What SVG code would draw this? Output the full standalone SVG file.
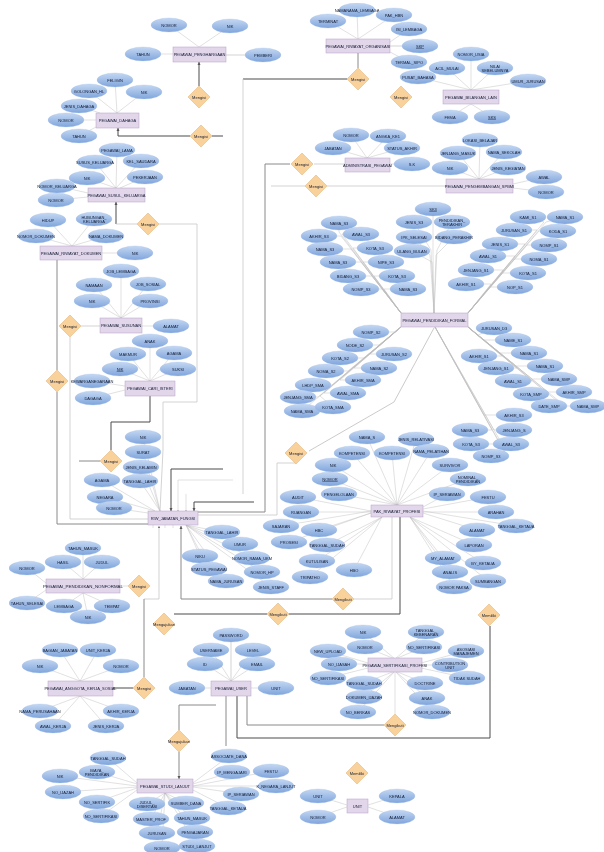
<svg xmlns="http://www.w3.org/2000/svg" width="604" height="852" viewBox="0 0 604 852">
<style>
text{font-family:"Liberation Sans",Arial,sans-serif;font-size:4px;fill:#141c33;text-anchor:middle;dominant-baseline:central}
.a{rx:18px;ry:7px;fill:url(#ov);stroke:#a3bfe6;stroke-width:.3}
.e{fill:#e2d6ea;stroke:#b39fc2;stroke-width:.5}
.d{fill:#f9d19b;stroke:#e0b070;stroke-width:.5}
.c{fill:none;stroke:#bcbcbc;stroke-width:.45}
.l{fill:none;stroke:#c8c8c8;stroke-width:.8}
.m{fill:none;stroke:#8a8a8a;stroke-width:1}
.k{fill:none;stroke:#4a4a4a;stroke-width:1}
.u{text-decoration:underline}
</style>
<defs>
<linearGradient id="ov" x1="0" y1="0" x2="0" y2="1"><stop offset="0" stop-color="#c4d7f2"/><stop offset="1" stop-color="#7fa5dc"/></linearGradient>
<marker id="ah" markerWidth="4" markerHeight="4" refX="3" refY="2" orient="auto"><path d="M0 .5L3 2L0 3.5z" fill="#555"/></marker>
<filter id="soft" x="0" y="0" width="100%" height="100%"><feGaussianBlur stdDeviation=".28"/></filter>
</defs>
<rect width="604" height="852" fill="#fff"/>
<g filter="url(#soft)">
<g id="connectors">
<path class="c" d="M169 25L199 47"/><path class="c" d="M230 26L199 47"/><path class="c" d="M143 54H173"/><path class="l" d="M226 55H263"/>
<path class="c" d="M115 80L117 113"/><path class="c" d="M89 91L117 113"/><path class="c" d="M144 92L117 113"/><path class="c" d="M79 106L100 113"/><path class="c" d="M66 120H96"/><path class="c" d="M79 136L96 127"/>
<path class="c" d="M117 150L116 188"/><path class="c" d="M95 162L116 188"/><path class="c" d="M141 161L116 188"/><path class="c" d="M87 178L116 188"/><path class="c" d="M145 177L120 188"/><path class="c" d="M57 186L88 193"/><path class="c" d="M56 200L88 197"/>
<path class="c" d="M48 220L72 246"/><path class="c" d="M94 219L72 246"/><path class="c" d="M36 236L72 246"/><path class="c" d="M106 236L72 246"/><path class="c" d="M135 253H102"/>
<path class="c" d="M121 271V318"/><path class="c" d="M94 285L121 318"/><path class="c" d="M148 284L121 318"/><path class="c" d="M92 301L121 318"/><path class="c" d="M150 301L121 318"/><path class="c" d="M171 326H142"/>
<path class="c" d="M150 341V381"/><path class="c" d="M128 354L150 381"/><path class="c" d="M174 353L150 381"/><path class="c" d="M120 369L150 381"/><path class="c" d="M178 369L150 381"/><path class="c" d="M92 381L125 386"/><path class="c" d="M93 398L125 390"/>
<path class="c" d="M143 437L160 511"/><path class="c" d="M143 452L160 511"/><path class="c" d="M141 467L160 511"/><path class="c" d="M140 481L160 511"/><path class="c" d="M102 480L155 511"/><path class="c" d="M105 497L155 511"/><path class="c" d="M114 508L148 513"/>
<path class="c" d="M222 532L186 525"/><path class="c" d="M240 544L186 525"/><path class="c" d="M200 556L186 525"/><path class="c" d="M252 558L186 525"/><path class="c" d="M209 569L186 525"/><path class="c" d="M262 572L186 525"/><path class="c" d="M226 581L186 525"/><path class="c" d="M271 587L186 525"/>
<path class="c" d="M328 21L358 39"/><path class="c" d="M357 10L358 39"/><path class="c" d="M394 15L358 39"/><path class="c" d="M409 29L390 42"/><path class="l" d="M420 46H390"/><path class="c" d="M409 62L390 52"/>
<path class="c" d="M471 54V90"/><path class="c" d="M447 68L471 90"/><path class="c" d="M495 68L471 90"/><path class="c" d="M418 77L471 90"/><path class="c" d="M528 81L471 90"/><path class="c" d="M450 117L471 104"/><path class="c" d="M492 117L471 104"/>
<path class="c" d="M351 135L367 158"/><path class="c" d="M388 136L367 158"/><path class="c" d="M333 148L367 158"/><path class="c" d="M402 148L367 158"/><path class="c" d="M412 164H390"/>
<path class="c" d="M480 140L479 179"/><path class="c" d="M458 153L479 179"/><path class="c" d="M504 152L479 179"/><path class="c" d="M450 168L479 179"/><path class="c" d="M508 168L479 179"/><path class="c" d="M544 177L513 184"/><path class="c" d="M546 192L513 188"/>
<path class="c" d="M433 209L433 255L434 313"/><path class="c" d="M414 222L431 250L434 313"/><path class="c" d="M452 222L437 250L434 313"/><path class="c" d="M414 237L430 255L434 313"/><path class="c" d="M454 237L436 255L434 313"/><path class="c" d="M412 251L432 262L434 313"/>
<path class="c" d="M339 223L339 232L401 313"/><path class="c" d="M319 236L341 236L401 313"/><path class="c" d="M361 234L342 234L401 313"/><path class="c" d="M325 249L351 249L401 313"/><path class="c" d="M375 248L353 248L401 313"/><path class="c" d="M338 262L361 262L401 313"/><path class="c" d="M386 262L363 262L401 313"/><path class="c" d="M348 276L372 276L401 313"/><path class="c" d="M397 276L374 276L401 313"/><path class="c" d="M361 289L382 289L401 313"/><path class="c" d="M408 289L384 289L401 313"/>
<path class="c" d="M528 217L544 222L468 313"/><path class="c" d="M565 217L546 222L468 313"/><path class="c" d="M514 230L537 230L468 313"/><path class="c" d="M558 231L539 231L468 313"/><path class="c" d="M500 244L525 244L468 313"/><path class="c" d="M549 245L527 245L468 313"/><path class="c" d="M488 256L515 256L468 313"/><path class="c" d="M539 259L514 259L468 313"/><path class="c" d="M476 270L503 270L468 313"/><path class="c" d="M528 273L502 273L468 313"/><path class="c" d="M466 284L491 284L468 313"/><path class="c" d="M515 287L490 287L468 313"/>
<path class="c" d="M371 332L394 332L401 327"/><path class="c" d="M355 345L379 345L401 327"/><path class="c" d="M340 358L364 358L401 327"/><path class="c" d="M326 371L348 371L401 327"/><path class="c" d="M313 385L332 385L401 327"/><path class="c" d="M298 397L318 397L401 327"/><path class="c" d="M302 411L315 400L401 327"/><path class="c" d="M394 354L370 354L401 327"/><path class="c" d="M379 368L354 368L401 327"/><path class="c" d="M363 380L340 380L401 327"/><path class="c" d="M348 393L324 393L401 327"/><path class="c" d="M333 407L320 396L401 327"/>
<path class="c" d="M494 328L478 335L468 327"/><path class="c" d="M513 340L483 340L468 327"/><path class="c" d="M479 356L502 356L468 327"/><path class="c" d="M529 353L500 353L468 327"/><path class="c" d="M545 366L516 366L468 327"/><path class="c" d="M496 368L517 368L468 327"/><path class="c" d="M513 381L532 381L468 327"/><path class="c" d="M559 379L532 379L468 327"/><path class="c" d="M531 394L548 394L468 327"/><path class="c" d="M574 392L548 392L468 327"/><path class="c" d="M549 406L563 406L468 327"/><path class="c" d="M588 406L565 406L468 327"/>
<path class="c" d="M514 415L484 415L435 327"/><path class="c" d="M470 430L492 430L435 327"/><path class="c" d="M514 430L494 430L435 327"/><path class="c" d="M471 444L500 444L435 327"/><path class="c" d="M511 444L502 444L435 327"/><path class="c" d="M491 456L507 456L435 327"/>
<path class="c" d="M367 437L397 505"/><path class="c" d="M416 439L397 505"/><path class="c" d="M352 453L397 505"/><path class="c" d="M392 453L397 505"/><path class="c" d="M431 451L397 505"/><path class="c" d="M333 465L397 505"/><path class="c" d="M450 465L397 505"/><path class="c" d="M330 479L397 505"/><path class="c" d="M468 479L397 505"/><path class="c" d="M339 494L397 505"/><path class="c" d="M447 494L423 507"/>
<path class="c" d="M298 497L371 511"/><path class="c" d="M301 512H371"/><path class="c" d="M281 526L371 511"/><path class="c" d="M319 530L371 513"/><path class="c" d="M289 542L371 513"/><path class="c" d="M327 545L382 517"/><path class="c" d="M317 561L382 517"/><path class="c" d="M310 577L382 517"/><path class="c" d="M354 570L382 517"/>
<path class="c" d="M488 497L423 509"/><path class="c" d="M496 512H423"/><path class="c" d="M516 526L423 511"/><path class="c" d="M477 530L423 513"/><path class="c" d="M474 545L410 517"/><path class="c" d="M483 563L410 517"/><path class="c" d="M443 558L410 517"/><path class="c" d="M450 572L410 517"/><path class="c" d="M488 581L410 517"/><path class="c" d="M454 587L410 517"/>
<path class="c" d="M83 548V579"/><path class="c" d="M63 562L83 579"/><path class="c" d="M102 562L83 579"/><path class="c" d="M27 568L46 583"/><path class="c" d="M27 603L46 590"/><path class="c" d="M64 606L83 593"/><path class="c" d="M112 606L83 593"/><path class="c" d="M88 617L83 593"/>
<path class="c" d="M60 650L80 681"/><path class="c" d="M98 650L80 681"/><path class="c" d="M40 666L80 681"/><path class="c" d="M121 666L80 681"/><path class="c" d="M40 711L80 696"/><path class="c" d="M121 711L80 696"/><path class="c" d="M53 726L80 696"/><path class="c" d="M106 726L80 696"/>
<path class="l" d="M231 635V681"/><path class="c" d="M211 650L231 681"/><path class="c" d="M253 650L231 681"/><path class="c" d="M205 664L231 681"/><path class="c" d="M257 664L231 681"/><path class="c" d="M187 688H211"/><path class="c" d="M276 688H251"/>
<path class="c" d="M108 758L137 783"/><path class="c" d="M97 772L137 784"/><path class="c" d="M60 776L137 786"/><path class="c" d="M63 792L137 787"/><path class="c" d="M97 802L137 788"/><path class="c" d="M101 816L137 790"/><path class="c" d="M147 804L165 793"/><path class="c" d="M186 803L165 793"/><path class="c" d="M151 819L165 793"/><path class="c" d="M192 818L165 793"/><path class="c" d="M157 833L165 793"/><path class="c" d="M195 832L165 793"/><path class="c" d="M162 848L165 793"/><path class="c" d="M197 846L165 793"/>
<path class="c" d="M229 756L193 783"/><path class="c" d="M232 772L193 784"/><path class="c" d="M271 771L193 786"/><path class="c" d="M276 786L193 786"/><path class="c" d="M241 794L193 787"/><path class="c" d="M228 808L193 790"/>
<path class="c" d="M363 632L395 659"/><path class="c" d="M365 647L395 659"/><path class="c" d="M426 632L395 659"/><path class="c" d="M424 647L395 659"/><path class="c" d="M328 651L368 663"/><path class="c" d="M339 664H368"/><path class="c" d="M328 678L368 668"/><path class="c" d="M466 651L421 663"/><path class="c" d="M450 665H421"/><path class="c" d="M467 678L421 668"/><path class="c" d="M364 683L395 671"/><path class="c" d="M364 697L395 671"/><path class="c" d="M358 712L395 671"/><path class="c" d="M425 683L395 671"/><path class="c" d="M427 698L395 671"/><path class="c" d="M432 712L395 671"/>
<path class="c" d="M318 796L347 805"/><path class="c" d="M318 817L347 807"/><path class="c" d="M397 796L368 805"/><path class="c" d="M397 817L368 807"/>
<path class="k" d="M199 86V62" marker-end="url(#ah)"/>
<path class="k" d="M190 136H118V128" marker-end="url(#ah)"/><path class="k" d="M212 136H223"/>
<path class="k" d="M116 224V202" marker-end="url(#ah)"/><path class="l" d="M116 224H137M159 224H197V402H163V450L160 511"/>
<path class="m" d="M57 260V370M57 392V524H148"/>
<path class="l" d="M81 326H100M70 337V519H148"/>
<path class="k" d="M150 396V422H111V450"/><path class="m" d="M100 461H79"/>
<path class="k" d="M347 79H243"/><path class="l" d="M243 79V494"/>
<path class="m" d="M290 164H265V512H198"/><path class="l" d="M314 164H345"/>
<path class="l" d="M271 186H305M327 186H446"/>
<path class="k" d="M223 469H171V511" marker-end="url(#ah)"/><path class="c" d="M233 480H178V511" marker-end="url(#ah)"/><path class="c" d="M186 494V511" marker-end="url(#ah)"/><path class="k" d="M254 502H194V511" marker-end="url(#ah)"/>
<path class="l" d="M198 515H277V463H296"/>
<path class="c" style="stroke:#888" d="M309 451L394 402L434 328"/>
<path class="l" d="M159 599H144"/><path class="l" d="M159 599V526" marker-end="url(#ah)"/><path class="m" d="M144 599V677"/>
<path class="m" d="M332 599H181V526" marker-end="url(#ah)"/><path class="l" d="M354 599H392V517"/>
<path class="c" d="M153 525V528M165 525V528M173 525V528"/>
<path class="k" d="M174 614H267M289 614H400V517"/>
<path class="k" d="M237 696V738H490V626"/><path class="m" d="M247 696V725H384"/><path class="c" d="M395 671V714"/>
<path class="m" d="M226 696V746"/>
<path class="m" d="M358 53V68"/>
<path class="m" d="M179 752V779" marker-end="url(#ah)"/><path class="m" d="M179 730V705H216"/>
<path class="k" d="M133 688H113"/><path class="c" d="M128 586H120"/>
</g>
<g id="e1"><rect class="e" x="173" y="47" width="53" height="15"/><text x="199.500" y="54.500">PEGAWAI_PENGHARGAAN</text></g>
<g id="e2"><rect class="e" x="96" y="113" width="43" height="15"/><text x="117.500" y="120.500">PEGAWAI_DAHAGA</text></g>
<g id="e3"><rect class="e" x="88" y="188" width="57" height="14"/><text x="116.500" y="195">PEGAWAI_SUSUL_KELUARGA</text></g>
<g id="e4"><rect class="e" x="40" y="246" width="62" height="14"/><text x="71" y="253">PEGAWAI_RIWAYAT_DOKUMEN</text></g>
<g id="e5"><rect class="e" x="100" y="318" width="42" height="15"/><text x="121" y="325.500">PEGAWAI_SUSUNAN</text></g>
<g id="e6"><rect class="e" x="125" y="381" width="50" height="15"/><text x="150" y="388.500">PEGAWAI_CARI_ISTERI</text></g>
<g id="e7"><rect class="e" x="148" y="511" width="50" height="14"/><text x="173" y="518">RIW_JABATAN_FUNGSI</text></g>
<g id="e9"><rect class="e" x="326" y="39" width="64" height="14"/><text x="358" y="46">PEGAWAI_RIWAYAT_ORGANISASI</text></g>
<g id="e10"><rect class="e" x="443" y="90" width="56" height="14"/><text x="471" y="97">PEGAWAI_BILANGAN_LAIN</text></g>
<g id="e11"><rect class="e" x="345" y="158" width="45" height="14"/><text x="367.500" y="165">ADMINISTRASI_PEGAWAI</text></g>
<g id="e12"><rect class="e" x="446" y="179" width="67" height="14"/><text x="479.500" y="186">PEGAWAI_PENGEMBANGAN_SPBMI</text></g>
<g id="e13"><rect class="e" x="401" y="313" width="67" height="14"/><text x="434.500" y="320">PEGAWAI_PENDIDIKAN_FORMAL</text></g>
<g id="e14"><rect class="e" x="371" y="505" width="52" height="12"/><text x="397" y="511">PAK_RIWAYAT_PROFESI</text></g>
<g id="e15"><rect class="e" x="46" y="579" width="74" height="14"/><text x="83" y="586" style="font-size:4.400px">PEGAWAI_PENDIDIKAN_NONFORMAL</text></g>
<g id="e16"><rect class="e" x="48" y="681" width="65" height="15"/><text x="80.500" y="688.500">PEGAWAI_ANGGOTA_KERJA_SOSIAL</text></g>
<g id="e17"><rect class="e" x="211" y="681" width="40" height="15"/><text x="231" y="688.500">PEGAWAI_USER</text></g>
<g id="e18"><rect class="e" x="137" y="779" width="56" height="14"/><text x="165" y="786">PEGAWAI_STUDI_LANJUT</text></g>
<g id="e19"><rect class="e" x="368" y="658" width="54" height="14"/><text x="395" y="665">PEGAWAI_SERTIFIKASI_PROFESI</text></g>
<g id="e20"><rect class="e" x="347" y="799" width="21" height="14"/><text x="357.500" y="806">UNIT</text></g>
<g id="d1"><path class="d" d="M199 86L210 97L199 108L188 97z"/><text x="199" y="97">Mengisi</text></g>
<g id="d2"><path class="d" d="M201 125L212 136L201 147L190 136z"/><text x="201" y="136">Mengisi</text></g>
<g id="d3"><path class="d" d="M148 213L159 224L148 235L137 224z"/><text x="148" y="224">Mengisi</text></g>
<g id="d4"><path class="d" d="M70 315L81 326L70 337L59 326z"/><text x="70" y="326">Mengisi</text></g>
<g id="d5"><path class="d" d="M57 370L68 381L57 392L46 381z"/><text x="57" y="381">Mengisi</text></g>
<g id="d6"><path class="d" d="M111 450L122 461L111 472L100 461z"/><text x="111" y="461">Mengisi</text></g>
<g id="d7"><path class="d" d="M358 68L369 79L358 90L347 79z"/><text x="358" y="79">Mengisi</text></g>
<g id="d8"><path class="d" d="M401 86L412 97L401 108L390 97z"/><text x="401" y="97">Mengisi</text></g>
<g id="d9"><path class="d" d="M302 153L313 164L302 175L291 164z"/><text x="302" y="164">Mengisi</text></g>
<g id="d10"><path class="d" d="M316 175L327 186L316 197L305 186z"/><text x="316" y="186">Mengisi</text></g>
<g id="d11"><path class="d" d="M296 442L307 453L296 464L285 453z"/><text x="296" y="453">Mengisi</text></g>
<g id="d12"><path class="d" d="M139 575L150 586L139 597L128 586z"/><text x="139" y="586">Mengisi</text></g>
<g id="d13"><path class="d" d="M343 588L354 599L343 610L332 599z"/><text x="343" y="599">Mengikuti</text></g>
<g id="d14"><path class="d" d="M278 603L289 614L278 625L267 614z"/><text x="278" y="614">Mengikuti</text></g>
<g id="d15"><path class="d" d="M164 613L175 624L164 635L153 624z"/><text x="164" y="624">Mengajukan</text></g>
<g id="d16"><path class="d" d="M489 604L500 615L489 626L478 615z"/><text x="489" y="615">Memiliki</text></g>
<g id="d17"><path class="d" d="M144 677L155 688L144 699L133 688z"/><text x="144" y="688">Mengisi</text></g>
<g id="d18"><path class="d" d="M179 730L190 741L179 752L168 741z"/><text x="179" y="741">Mengajukan</text></g>
<g id="d19"><path class="d" d="M395 714L406 725L395 736L384 725z"/><text x="395" y="725">Mengikuti</text></g>
<g id="d20"><path class="d" d="M357 762L368 773L357 784L346 773z"/><text x="357" y="773">Memiliki</text></g>
<g id="a1" transform="translate(169,25)"><ellipse class="a"/><text>NOMOR</text></g>
<g id="a2" transform="translate(230,26)"><ellipse class="a"/><text>NIK</text></g>
<g id="a3" transform="translate(143,54)"><ellipse class="a"/><text>TAHUN</text></g>
<g id="a4" transform="translate(263,55)"><ellipse class="a"/><text>PEMBERI</text></g>
<g id="a5" transform="translate(115,80)"><ellipse class="a"/><text>FELIGIN</text></g>
<g id="a6" transform="translate(89,91)"><ellipse class="a"/><text>GOLONGAN_HL</text></g>
<g id="a7" transform="translate(144,92)"><ellipse class="a"/><text>NIK</text></g>
<g id="a8" transform="translate(79,106)"><ellipse class="a"/><text>JENIS_DAHAGA</text></g>
<g id="a9" transform="translate(66,120)"><ellipse class="a"/><text>NOMOR</text></g>
<g id="a10" transform="translate(79,136)"><ellipse class="a"/><text>TAHUN</text></g>
<g id="a11" transform="translate(117,150)"><ellipse class="a"/><text>PEGAWAI_LAMA</text></g>
<g id="a12" transform="translate(95,162)"><ellipse class="a"/><text>SUSUS_KELUARGA</text></g>
<g id="a13" transform="translate(141,161)"><ellipse class="a"/><text>KEL_SAUDARA</text></g>
<g id="a14" transform="translate(87,178)"><ellipse class="a"/><text>NIK</text></g>
<g id="a15" transform="translate(145,177)"><ellipse class="a"/><text>PEKERJAAN</text></g>
<g id="a16" transform="translate(57,186)"><ellipse class="a"/><text>NOMOR_KELUARGA</text></g>
<g id="a17" transform="translate(56,200)"><ellipse class="a"/><text>NOMOR</text></g>
<g id="a18" transform="translate(48,220)"><ellipse class="a"/><text>HIDUP</text></g>
<g id="a19" transform="translate(94,219)"><ellipse class="a"/><text><tspan x="0" y="-2.200">HUBUNGAN_</tspan><tspan x="0" y="2.400">KELUARGA</tspan></text></g>
<g id="a20" transform="translate(36,236)"><ellipse class="a"/><text>NOMOR_DOKUMEN</text></g>
<g id="a21" transform="translate(106,236)"><ellipse class="a"/><text>NAMA_DOKUMEN</text></g>
<g id="a22" transform="translate(135,253)"><ellipse class="a"/><text>NIK</text></g>
<g id="a23" transform="translate(121,271)"><ellipse class="a"/><text>JOB_LEMBAGA</text></g>
<g id="a24" transform="translate(94,285)"><ellipse class="a"/><text>NAMAAN</text></g>
<g id="a25" transform="translate(148,284)"><ellipse class="a"/><text>JOB_SOSIAL</text></g>
<g id="a26" transform="translate(92,301)"><ellipse class="a"/><text>NIK</text></g>
<g id="a27" transform="translate(150,301)"><ellipse class="a"/><text>PROVINSI</text></g>
<g id="a28" transform="translate(171,326)"><ellipse class="a"/><text>ALAMAT</text></g>
<g id="a29" transform="translate(150,341)"><ellipse class="a"/><text>ANAK</text></g>
<g id="a30" transform="translate(128,354)"><ellipse class="a"/><text>MAKMUR</text></g>
<g id="a31" transform="translate(174,353)"><ellipse class="a"/><text>AGAMA</text></g>
<g id="a32" transform="translate(120,369)"><ellipse class="a"/><text class="u">NIK</text></g>
<g id="a33" transform="translate(178,369)"><ellipse class="a"/><text>SUKSI</text></g>
<g id="a34" transform="translate(92,381)"><ellipse class="a"/><text>KEWARGANEGARAAN</text></g>
<g id="a35" transform="translate(93,398)"><ellipse class="a"/><text>DAGAGA</text></g>
<g id="a36" transform="translate(143,437)"><ellipse class="a"/><text>NIK</text></g>
<g id="a37" transform="translate(143,452)"><ellipse class="a"/><text>SURAT</text></g>
<g id="a38" transform="translate(141,467)"><ellipse class="a"/><text>JENIS_KELAMIN</text></g>
<g id="a39" transform="translate(140,481)"><ellipse class="a"/><text>TANGGAL_LAHIR</text></g>
<g id="a40" transform="translate(102,480)"><ellipse class="a"/><text>AGAMA</text></g>
<g id="a41" transform="translate(105,497)"><ellipse class="a"/><text>NEGARA</text></g>
<g id="a42" transform="translate(114,508)"><ellipse class="a"/><text>NOMOR</text></g>
<g id="a43" transform="translate(222,532)"><ellipse class="a"/><text>TANGGAL_LAHIR</text></g>
<g id="a44" transform="translate(240,544)"><ellipse class="a"/><text>UMUR</text></g>
<g id="a45" transform="translate(252,558)"><ellipse class="a"/><text>NOMOR_RAMA_UKM</text></g>
<g id="a46" transform="translate(200,556)"><ellipse class="a"/><text>NIKU</text></g>
<g id="a47" transform="translate(209,569)"><ellipse class="a"/><text>STATUS_PEGAWAI</text></g>
<g id="a48" transform="translate(262,572)"><ellipse class="a"/><text>NOMOR_HP</text></g>
<g id="a49" transform="translate(226,581)"><ellipse class="a"/><text>NAMA_JURUSAN</text></g>
<g id="a50" transform="translate(271,587)"><ellipse class="a"/><text>JENIS_STAFF</text></g>
<g id="a51" transform="translate(328,21)"><ellipse class="a"/><text>TERMINAT</text></g>
<g id="a52" transform="translate(357,10)"><ellipse class="a"/><text>NAMANAMA_LEMBAGA</text></g>
<g id="a53" transform="translate(394,15)"><ellipse class="a"/><text>PAK_HBN</text></g>
<g id="a54" transform="translate(409,29)"><ellipse class="a"/><text>ISI_LEMBAGA</text></g>
<g id="a55" transform="translate(420,46)"><ellipse class="a"/><text class="u">SKP</text></g>
<g id="a56" transform="translate(409,62)"><ellipse class="a"/><text>TERMAL_SIPO</text></g>
<g id="a57" transform="translate(471,54)"><ellipse class="a"/><text>NOMOR_USIA</text></g>
<g id="a58" transform="translate(447,68)"><ellipse class="a"/><text>ACIL_MULAI</text></g>
<g id="a59" transform="translate(495,68)"><ellipse class="a"/><text><tspan x="0" y="-2.200">NILAI</tspan><tspan x="0" y="2.400">SEBELUMNYA</tspan></text></g>
<g id="a60" transform="translate(418,77)"><ellipse class="a"/><text>PUSAT_BAHASA</text></g>
<g id="a61" transform="translate(528,81)"><ellipse class="a"/><text>UMUR_JURUSAN</text></g>
<g id="a62" transform="translate(450,117)"><ellipse class="a"/><text>FEMA</text></g>
<g id="a63" transform="translate(492,117)"><ellipse class="a"/><text class="u">SKS</text></g>
<g id="a64" transform="translate(351,135)"><ellipse class="a"/><text>NOMOR</text></g>
<g id="a65" transform="translate(388,136)"><ellipse class="a"/><text>ANGKA_KE1</text></g>
<g id="a66" transform="translate(333,148)"><ellipse class="a"/><text>JABATAN</text></g>
<g id="a67" transform="translate(402,148)"><ellipse class="a"/><text>STATUS_AKHIR</text></g>
<g id="a68" transform="translate(412,164)"><ellipse class="a"/><text>S.K</text></g>
<g id="a69" transform="translate(480,140)"><ellipse class="a"/><text>LOKASI_BELAJAR</text></g>
<g id="a70" transform="translate(458,153)"><ellipse class="a"/><text>JENJANG_MASUK</text></g>
<g id="a71" transform="translate(504,152)"><ellipse class="a"/><text>NAMA_SEKOLAH</text></g>
<g id="a72" transform="translate(450,168)"><ellipse class="a"/><text>NIK</text></g>
<g id="a73" transform="translate(508,168)"><ellipse class="a"/><text>JENIS_KEGIATAN</text></g>
<g id="a74" transform="translate(544,177)"><ellipse class="a"/><text>AWAL</text></g>
<g id="a75" transform="translate(546,192)"><ellipse class="a"/><text>NOMOR</text></g>
<g id="a76" transform="translate(433,209)"><ellipse class="a"/><text class="u">SK3</text></g>
<g id="a77" transform="translate(414,222)"><ellipse class="a"/><text>JENIS_S3</text></g>
<g id="a78" transform="translate(452,222)"><ellipse class="a"/><text><tspan x="0" y="-2.200">PENDIDIKAN_</tspan><tspan x="0" y="2.400">TERAKHIR</tspan></text></g>
<g id="a79" transform="translate(414,237)"><ellipse class="a"/><text>IPK_SELESAI</text></g>
<g id="a80" transform="translate(454,237)"><ellipse class="a"/><text>BIDANG_PERAKHIR</text></g>
<g id="a81" transform="translate(412,251)"><ellipse class="a"/><text>ULANG_BULAN</text></g>
<g id="a82" transform="translate(339,223)"><ellipse class="a"/><text>NAMA_S3</text></g>
<g id="a83" transform="translate(319,236)"><ellipse class="a"/><text>AKHIR_S3</text></g>
<g id="a84" transform="translate(361,234)"><ellipse class="a"/><text>AWAL_S3</text></g>
<g id="a85" transform="translate(325,249)"><ellipse class="a"/><text>NAMA_S3</text></g>
<g id="a86" transform="translate(375,248)"><ellipse class="a"/><text>KOTA_S3</text></g>
<g id="a87" transform="translate(338,262)"><ellipse class="a"/><text>NAMA_S3</text></g>
<g id="a88" transform="translate(386,262)"><ellipse class="a"/><text>NIPE_S3</text></g>
<g id="a89" transform="translate(348,276)"><ellipse class="a"/><text>BIDANG_S3</text></g>
<g id="a90" transform="translate(397,276)"><ellipse class="a"/><text>KOTA_S3</text></g>
<g id="a91" transform="translate(361,289)"><ellipse class="a"/><text>NOMP_S3</text></g>
<g id="a92" transform="translate(408,289)"><ellipse class="a"/><text>NAMA_S3</text></g>
<g id="a93" transform="translate(528,217)"><ellipse class="a"/><text>KAMI_S1</text></g>
<g id="a94" transform="translate(565,217)"><ellipse class="a"/><text>NAMA_S1</text></g>
<g id="a95" transform="translate(514,230)"><ellipse class="a"/><text>JURUSAN_S1</text></g>
<g id="a96" transform="translate(558,231)"><ellipse class="a"/><text>KODA_S1</text></g>
<g id="a97" transform="translate(500,244)"><ellipse class="a"/><text>JENIS_S1</text></g>
<g id="a98" transform="translate(549,245)"><ellipse class="a"/><text>NOMP_S1</text></g>
<g id="a99" transform="translate(488,256)"><ellipse class="a"/><text>AWAL_S1</text></g>
<g id="a100" transform="translate(539,259)"><ellipse class="a"/><text>NOMA_S1</text></g>
<g id="a101" transform="translate(476,270)"><ellipse class="a"/><text>JENJANG_S1</text></g>
<g id="a102" transform="translate(528,273)"><ellipse class="a"/><text>KOTA_S1</text></g>
<g id="a103" transform="translate(466,284)"><ellipse class="a"/><text>AKHIR_S1</text></g>
<g id="a104" transform="translate(515,287)"><ellipse class="a"/><text>NOP_S1</text></g>
<g id="a105" transform="translate(371,332)"><ellipse class="a"/><text>NOMP_S2</text></g>
<g id="a106" transform="translate(355,345)"><ellipse class="a"/><text>NODE_S2</text></g>
<g id="a107" transform="translate(340,358)"><ellipse class="a"/><text>KOTA_S2</text></g>
<g id="a108" transform="translate(326,371)"><ellipse class="a"/><text>NOMA_S2</text></g>
<g id="a109" transform="translate(313,385)"><ellipse class="a"/><text>LHDP_SMA</text></g>
<g id="a110" transform="translate(298,397)"><ellipse class="a"/><text>JENJANG_SMA</text></g>
<g id="a111" transform="translate(302,411)"><ellipse class="a"/><text>NAMA_SMA</text></g>
<g id="a112" transform="translate(394,354)"><ellipse class="a"/><text>JURUSAN_S2</text></g>
<g id="a113" transform="translate(379,368)"><ellipse class="a"/><text>NAMA_S2</text></g>
<g id="a114" transform="translate(363,380)"><ellipse class="a"/><text>AKHIR_SMA</text></g>
<g id="a115" transform="translate(348,393)"><ellipse class="a"/><text>AWAL_SMA</text></g>
<g id="a116" transform="translate(333,407)"><ellipse class="a"/><text>KOTA_SMA</text></g>
<g id="a117" transform="translate(494,328)"><ellipse class="a"/><text>JURUSAN_D3</text></g>
<g id="a118" transform="translate(513,340)"><ellipse class="a"/><text>NAME_S1</text></g>
<g id="a119" transform="translate(479,356)"><ellipse class="a"/><text>AKHIR_S1</text></g>
<g id="a120" transform="translate(529,353)"><ellipse class="a"/><text>NAMA_S1</text></g>
<g id="a121" transform="translate(545,366)"><ellipse class="a"/><text>NAMA_S1</text></g>
<g id="a122" transform="translate(496,368)"><ellipse class="a"/><text>JENJANG_S1</text></g>
<g id="a123" transform="translate(513,381)"><ellipse class="a"/><text>AWAL_S1</text></g>
<g id="a124" transform="translate(559,379)"><ellipse class="a"/><text>NAMA_SMP</text></g>
<g id="a125" transform="translate(531,394)"><ellipse class="a"/><text>KOTA_SMP</text></g>
<g id="a126" transform="translate(574,392)"><ellipse class="a"/><text>AKHIR_SMP</text></g>
<g id="a127" transform="translate(549,406)"><ellipse class="a"/><text>DATE_SMP</text></g>
<g id="a128" transform="translate(588,406)"><ellipse class="a"/><text>NAMA_SMP</text></g>
<g id="a129" transform="translate(514,415)"><ellipse class="a"/><text>AKHIR_S3</text></g>
<g id="a130" transform="translate(470,430)"><ellipse class="a"/><text>NAMA_S3</text></g>
<g id="a131" transform="translate(514,430)"><ellipse class="a"/><text>JENJANG_S</text></g>
<g id="a132" transform="translate(471,444)"><ellipse class="a"/><text>KOTA_S3</text></g>
<g id="a133" transform="translate(511,444)"><ellipse class="a"/><text>AWAL_S3</text></g>
<g id="a134" transform="translate(491,456)"><ellipse class="a"/><text>NOMP_S3</text></g>
<g id="a135" transform="translate(367,437)"><ellipse class="a"/><text>NAMA_S</text></g>
<g id="a136" transform="translate(416,439)"><ellipse class="a"/><text>JENIS_RELATIVASI</text></g>
<g id="a137" transform="translate(352,453)"><ellipse class="a"/><text>KOMPETENSI</text></g>
<g id="a138" transform="translate(392,453)"><ellipse class="a"/><text>KOMPETENSI</text></g>
<g id="a139" transform="translate(431,451)"><ellipse class="a"/><text>NAMA_PELATIHAN</text></g>
<g id="a140" transform="translate(333,465)"><ellipse class="a"/><text>NIK</text></g>
<g id="a141" transform="translate(450,465)"><ellipse class="a"/><text>SURVIVOR</text></g>
<g id="a142" transform="translate(330,479)"><ellipse class="a"/><text class="u">NOMOR</text></g>
<g id="a143" transform="translate(468,479)"><ellipse class="a"/><text><tspan x="0" y="-2.200">NOMINAL_</tspan><tspan x="0" y="2.400">PENDIDIKAN</tspan></text></g>
<g id="a144" transform="translate(339,494)"><ellipse class="a"/><text>PENGELOLAAN</text></g>
<g id="a145" transform="translate(447,494)"><ellipse class="a"/><text>IP_SERIAWAN</text></g>
<g id="a146" transform="translate(298,497)"><ellipse class="a"/><text>AUDIT</text></g>
<g id="a147" transform="translate(301,512)"><ellipse class="a"/><text>RUANGAN</text></g>
<g id="a148" transform="translate(281,526)"><ellipse class="a"/><text>SAJARAN</text></g>
<g id="a149" transform="translate(319,530)"><ellipse class="a"/><text>HBC</text></g>
<g id="a150" transform="translate(289,542)"><ellipse class="a"/><text>PROSESI</text></g>
<g id="a151" transform="translate(327,545)"><ellipse class="a"/><text>TANGGAL_SUDAH</text></g>
<g id="a152" transform="translate(317,561)"><ellipse class="a"/><text>KUTULISAN</text></g>
<g id="a153" transform="translate(310,577)"><ellipse class="a"/><text>TRIPATHO</text></g>
<g id="a154" transform="translate(354,570)"><ellipse class="a"/><text>HBO</text></g>
<g id="a155" transform="translate(488,497)"><ellipse class="a"/><text>FESTU</text></g>
<g id="a156" transform="translate(496,512)"><ellipse class="a"/><text>ARAHAN</text></g>
<g id="a157" transform="translate(516,526)"><ellipse class="a"/><text>TANGGAL_KETAUA</text></g>
<g id="a158" transform="translate(477,530)"><ellipse class="a"/><text>ALAMAT</text></g>
<g id="a159" transform="translate(474,545)"><ellipse class="a"/><text>LAPORAN</text></g>
<g id="a160" transform="translate(483,563)"><ellipse class="a"/><text>BY_KETAUA</text></g>
<g id="a161" transform="translate(443,558)"><ellipse class="a"/><text>MY_ALAMAT</text></g>
<g id="a162" transform="translate(450,572)"><ellipse class="a"/><text>ANALIS</text></g>
<g id="a163" transform="translate(488,581)"><ellipse class="a"/><text>SUMBANGAN</text></g>
<g id="a164" transform="translate(454,587)"><ellipse class="a"/><text>NOMOR PAKSA</text></g>
<g id="a165" transform="translate(83,548)"><ellipse class="a"/><text>TAHUN_MASUK</text></g>
<g id="a166" transform="translate(63,562)"><ellipse class="a"/><text>HASIL</text></g>
<g id="a167" transform="translate(102,562)"><ellipse class="a"/><text>JUDUL</text></g>
<g id="a168" transform="translate(27,568)"><ellipse class="a"/><text>NOMOR</text></g>
<g id="a169" transform="translate(27,603)"><ellipse class="a"/><text>TAHUN_SELESAI</text></g>
<g id="a170" transform="translate(64,606)"><ellipse class="a"/><text>LEMBAGA</text></g>
<g id="a171" transform="translate(112,606)"><ellipse class="a"/><text>TEMPAT</text></g>
<g id="a172" transform="translate(88,617)"><ellipse class="a"/><text>NIK</text></g>
<g id="a173" transform="translate(60,650)"><ellipse class="a"/><text>BAGIAN_JABATAN</text></g>
<g id="a174" transform="translate(98,650)"><ellipse class="a"/><text>UNIT_KERJA</text></g>
<g id="a175" transform="translate(40,666)"><ellipse class="a"/><text>NIK</text></g>
<g id="a176" transform="translate(121,666)"><ellipse class="a"/><text>NOMOR</text></g>
<g id="a177" transform="translate(40,711)"><ellipse class="a"/><text>NAMA_PERUSAHAAN</text></g>
<g id="a178" transform="translate(121,711)"><ellipse class="a"/><text>AKHIR_KERJA</text></g>
<g id="a179" transform="translate(53,726)"><ellipse class="a"/><text>AWAL_KERJA</text></g>
<g id="a180" transform="translate(106,726)"><ellipse class="a"/><text>JENIS_KERJA</text></g>
<g id="a181" transform="translate(231,635)"><ellipse class="a"/><text>PASSWORD</text></g>
<g id="a182" transform="translate(211,650)"><ellipse class="a"/><text>USERNAME</text></g>
<g id="a183" transform="translate(253,650)"><ellipse class="a"/><text>LEVEL</text></g>
<g id="a184" transform="translate(205,664)"><ellipse class="a"/><text>ID</text></g>
<g id="a185" transform="translate(257,664)"><ellipse class="a"/><text>EMAIL</text></g>
<g id="a186" transform="translate(187,688)"><ellipse class="a"/><text>JABATAN</text></g>
<g id="a187" transform="translate(276,688)"><ellipse class="a"/><text>UNIT</text></g>
<g id="a188" transform="translate(108,758)"><ellipse class="a"/><text>TANGGAL_SUDAH</text></g>
<g id="a189" transform="translate(97,772)"><ellipse class="a"/><text><tspan x="0" y="-2.200">BIAYA_</tspan><tspan x="0" y="2.400">PENDIDIKAN</tspan></text></g>
<g id="a190" transform="translate(60,776)"><ellipse class="a"/><text>NIK</text></g>
<g id="a191" transform="translate(63,792)"><ellipse class="a"/><text>NO_IJAZAH</text></g>
<g id="a192" transform="translate(97,802)"><ellipse class="a"/><text>NO_SERTIFIK</text></g>
<g id="a193" transform="translate(101,816)"><ellipse class="a"/><text>NO_SERTIFIKASI</text></g>
<g id="a194" transform="translate(147,804)"><ellipse class="a"/><text><tspan x="0" y="-2.200">JUDUL_</tspan><tspan x="0" y="2.400">DISERTASI</tspan></text></g>
<g id="a195" transform="translate(186,803)"><ellipse class="a"/><text>SUMBER_DANA</text></g>
<g id="a196" transform="translate(151,819)"><ellipse class="a"/><text>MASTER_PROF</text></g>
<g id="a197" transform="translate(192,818)"><ellipse class="a"/><text>TAHUN_MASUK</text></g>
<g id="a198" transform="translate(157,833)"><ellipse class="a"/><text>JURUSAN</text></g>
<g id="a199" transform="translate(195,832)"><ellipse class="a"/><text>PENGAJARAN</text></g>
<g id="a200" transform="translate(162,848)"><ellipse class="a"/><text>NOMOR</text></g>
<g id="a201" transform="translate(197,846)"><ellipse class="a"/><text>STUDI_LANJUT</text></g>
<g id="a202" transform="translate(229,756)"><ellipse class="a"/><text>ASSOCIATE_DANA</text></g>
<g id="a203" transform="translate(232,772)"><ellipse class="a"/><text>IP_MENGAJARI</text></g>
<g id="a204" transform="translate(271,771)"><ellipse class="a"/><text>FESTU</text></g>
<g id="a205" transform="translate(276,786)"><ellipse class="a"/><text>K_NEGARA_LANJUT</text></g>
<g id="a206" transform="translate(241,794)"><ellipse class="a"/><text>IP_SERIAWAN</text></g>
<g id="a207" transform="translate(228,808)"><ellipse class="a"/><text>TANGGAL_KETAUA</text></g>
<g id="a208" transform="translate(363,632)"><ellipse class="a"/><text>NIK</text></g>
<g id="a209" transform="translate(365,647)"><ellipse class="a"/><text>NOMOR</text></g>
<g id="a210" transform="translate(328,651)"><ellipse class="a"/><text>NEW_UPLOAD</text></g>
<g id="a211" transform="translate(339,664)"><ellipse class="a"/><text>NO_IJASAH</text></g>
<g id="a212" transform="translate(328,678)"><ellipse class="a"/><text>NO_SERTIFIKASI</text></g>
<g id="a213" transform="translate(364,683)"><ellipse class="a"/><text>TANGGAL_SUDAH</text></g>
<g id="a214" transform="translate(364,697)"><ellipse class="a"/><text>DOKUMEN_IJAZAH</text></g>
<g id="a215" transform="translate(358,712)"><ellipse class="a"/><text>NO_BERKAS</text></g>
<g id="a216" transform="translate(426,632)"><ellipse class="a"/><text><tspan x="0" y="-2.200">TANGGAL_</tspan><tspan x="0" y="2.400">KEBENARAN</tspan></text></g>
<g id="a217" transform="translate(424,647)"><ellipse class="a"/><text>NO_SERTIFIKASI</text></g>
<g id="a218" transform="translate(466,651)"><ellipse class="a"/><text><tspan x="0" y="-2.200">ASOSIASI</tspan><tspan x="0" y="2.400">MANAJEMEN</tspan></text></g>
<g id="a219" transform="translate(450,665)"><ellipse class="a"/><text><tspan x="0" y="-2.200">CONTRIBUTION</tspan><tspan x="0" y="2.400">UNIT</tspan></text></g>
<g id="a220" transform="translate(467,678)"><ellipse class="a"/><text>TIDAK SUDAH</text></g>
<g id="a221" transform="translate(425,683)"><ellipse class="a"/><text>DOCTRINE</text></g>
<g id="a222" transform="translate(427,698)"><ellipse class="a"/><text>ANAK</text></g>
<g id="a223" transform="translate(432,712)"><ellipse class="a"/><text>NOMOR_DOKUMEN</text></g>
<g id="a224" transform="translate(318,796)"><ellipse class="a"/><text>UNIT</text></g>
<g id="a225" transform="translate(318,817)"><ellipse class="a"/><text>NOMOR</text></g>
<g id="a226" transform="translate(397,796)"><ellipse class="a"/><text>KEPALA</text></g>
<g id="a227" transform="translate(397,817)"><ellipse class="a"/><text>ALAMAT</text></g>
</g>
</svg>
